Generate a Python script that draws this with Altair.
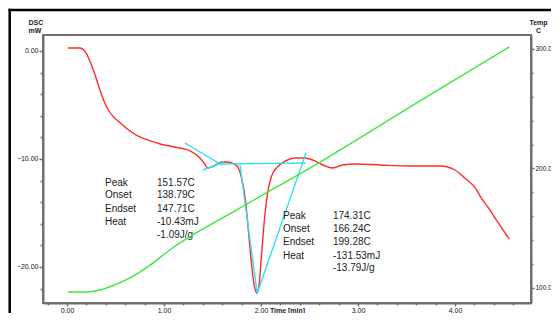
import altair as alt
import pandas as pd

# DSC signal (red), left axis, mW vs time [min]
dsc_time = [0.01, 0.13, 0.19, 0.24, 0.29, 0.34, 0.39, 0.44, 0.55, 0.65,
            0.75, 0.86, 0.96, 1.06, 1.16, 1.27, 1.37, 1.42, 1.45, 1.49,
            1.55, 1.60, 1.66, 1.72, 1.76, 1.80, 1.84, 1.87, 1.90, 1.93,
            1.96, 1.98, 2.01, 2.04, 2.07, 2.11, 2.18, 2.25, 2.35, 2.45,
            2.56, 2.66, 2.74, 2.84, 2.97, 3.23, 3.54, 3.85, 4.00, 4.10,
            4.21, 4.26, 4.36, 4.46, 4.56]
dsc_mw = [0.28, 0.28, -0.09, -1.02, -2.22, -3.61, -4.81, -5.65, -6.67, -7.41,
          -7.96, -8.33, -8.61, -8.80, -8.98, -9.26, -9.91, -10.46, -10.83, -10.74,
          -10.46, -10.28, -10.28, -10.46, -10.74, -11.76, -13.80, -16.57, -19.54, -21.67,
          -22.41, -21.67, -18.43, -15.19, -13.06, -11.57, -10.65, -10.19, -9.91, -9.91,
          -10.19, -10.65, -10.83, -10.56, -10.46, -10.56, -10.65, -10.65, -11.02, -11.76,
          -12.69, -13.43, -14.72, -16.11, -17.41]

# Temperature (green), right axis
temp_time = [0.01, 0.19, 0.34, 0.49, 0.65, 0.86, 1.06, 1.75, 2.61, 3.64, 4.56]
temp_c = [96.7, 96.7, 98.3, 102.5, 108.4, 119.3, 131.8, 165.3, 205.4, 256.5, 301.7]

# Tangent / baseline construction lines (cyan)
seg_t1 = [1.216, 1.402, 1.598, 1.784, 1.959]
seg_m1 = [-8.52, -11.02, -10.46, -10.56, -22.50]
seg_t2 = [1.598, 1.619, 2.464, 1.959, 2.464]
seg_m2 = [-10.56, -10.28, -10.37, -22.31, -9.44]

# Annotation blocks
ann_keys = ["Peak", "Onset", "Endset", "Heat", ""]
ann1_vals = ["151.57C", "138.79C", "147.71C", "-10.43mJ", "-1.09J/g"]
ann2_vals = ["174.31C", "166.24C", "199.28C", "-131.53mJ", "-13.79J/g"]
ann1_y = [-12.22, -13.33, -14.63, -15.83, -17.04]
ann2_y = [-15.28, -16.48, -17.69, -18.98, -20.09]
ann1_xk, ann1_xv = 0.392, 0.928
ann2_xk, ann2_xv = 2.227, 2.742

# Axis ticks
x_ticks = [-0.2, 0.0, 0.2, 0.4, 0.6, 0.8, 1.0, 1.2, 1.4, 1.6, 1.8, 2.0, 2.2, 2.4,
           2.6, 2.8, 3.0, 3.2, 3.4, 3.6, 3.8, 4.0, 4.2, 4.4, 4.6]
y_ticks = [0, -2, -4, -6, -8, -10, -12, -14, -16, -18, -20, -22]
t_ticks = [100, 120, 140, 160, 180, 200, 220, 240, 260, 280, 300]

FONT = "Liberation Sans"
AX = "#707070"
W = 488
H = 268
x_dom = [-0.247, -0.247 + W / 97.0]
y_dom = [1.48 - H / 10.8, 1.48]
t_dom = [311.7 - H / 1.195, 311.7]

dsc = pd.DataFrame({"t": dsc_time, "mw": dsc_mw})
tmp = pd.DataFrame({"t": temp_time, "c": temp_c})
seg = pd.DataFrame({"t1": seg_t1, "m1": seg_m1, "t2": seg_t2, "m2": seg_m2})
ann = pd.DataFrame({
    "x": [ann1_xk] * 5 + [ann1_xv] * 5 + [ann2_xk] * 5 + [ann2_xv] * 5,
    "y": ann1_y + ann1_y + ann2_y + ann2_y,
    "txt": ann_keys + ann1_vals + ann_keys + ann2_vals,
})

xscale = alt.Scale(domain=x_dom, nice=False, zero=False)
yscale = alt.Scale(domain=y_dom, nice=False, zero=False)
tscale = alt.Scale(domain=t_dom, nice=False, zero=False)

xaxis = alt.Axis(
    values=x_ticks, title="Time  [min]", grid=False,
    labelExpr="abs(datum.value - round(datum.value)) < 0.001 ? format(datum.value, '.2f') : ''",
    tickSize={"condition": {"test": "abs(datum.value - round(datum.value)) < 0.001", "value": 3}, "value": 2},
    labelFont=FONT, labelFontSize=7, labelColor="#111", labelPadding=0,
    titleFont=FONT, titleFontSize=7, titleFontWeight="bold", titleColor="#222",
    titleY=9.5, titleBaseline="alphabetic",
    domainColor=AX, domainWidth=2, tickColor=AX, tickWidth=1.5, labelFlush=False,
)
yaxis = alt.Axis(
    values=y_ticks, title=["DSC", "mW"], grid=False,
    labelExpr="datum.value % 10 == 0 ? format(datum.value, '.2f') : ''",
    tickSize={"condition": {"test": "datum.value % 10 == 0", "value": 4}, "value": 3},
    labelFont=FONT, labelFontSize=7, labelColor="#111", labelPadding=1,
    titleFont=FONT, titleFontSize=7, titleFontWeight="bold", titleColor="#222",
    titleAngle=0, titleAlign="left", titleBaseline="top", titleX=-15, titleY=-17,
    titleLineHeight=8,
    domainColor=AX, domainWidth=2, tickColor=AX, tickWidth=1.5,
)
taxis = alt.Axis(
    orient="right", values=t_ticks, title=["Temp", "C"], grid=False,
    labelExpr="datum.value % 100 == 0 ? format(datum.value, '.1f') : ''",
    tickSize={"condition": {"test": "datum.value % 100 == 0", "value": 3}, "value": 2},
    labelFont=FONT, labelFontSize=6.5, labelColor="#111", labelPadding=1,
    titleFont=FONT, titleFontSize=7, titleFontWeight="bold", titleColor="#222",
    titleAngle=0, titleAlign="center", titleBaseline="top", titleX=7, titleY=-17,
    titleLineHeight=8,
    domainColor=AX, domainWidth=2, tickColor=AX, tickWidth=1.5,
)

red = alt.Chart(dsc).mark_line(color="#ff2b2b", strokeWidth=1.4, interpolate="monotone").encode(
    x=alt.X("t:Q", scale=xscale, axis=xaxis),
    y=alt.Y("mw:Q", scale=yscale, axis=yaxis),
)
cyan = alt.Chart(seg).mark_rule(color="#33e0f0", strokeWidth=1.4).encode(
    x=alt.X("t1:Q", scale=xscale, axis=xaxis),
    x2="t2:Q",
    y=alt.Y("m1:Q", scale=yscale, axis=yaxis),
    y2="m2:Q",
)
text = alt.Chart(ann).mark_text(align="left", baseline="middle", font=FONT, fontSize=10, color="#222").encode(
    x=alt.X("x:Q", scale=xscale, axis=xaxis),
    y=alt.Y("y:Q", scale=yscale, axis=yaxis),
    text="txt:N",
)
green = alt.Chart(tmp).mark_line(color="#3ee83e", strokeWidth=1.4, interpolate="monotone").encode(
    x=alt.X("t:Q", scale=xscale, axis=xaxis),
    y=alt.Y("c:Q", scale=tscale, axis=taxis),
)

frame_src = pd.DataFrame({"k": [0]})
frame_v = alt.Chart(frame_src).mark_rule(color="#000", strokeWidth=2.5).encode(
    x=alt.value(-33.3), y=alt.value(-26.2), y2=alt.value(300)
)
frame_h = alt.Chart(frame_src).mark_rule(color="#000", strokeWidth=2.5).encode(
    x=alt.value(-34.5), x2=alt.value(515), y=alt.value(-25)
)

left = alt.layer(red, cyan, text)
chart = alt.layer(left, green, frame_v, frame_h).resolve_scale(y="independent").properties(
    width=W, height=H, autosize="none",
    padding={"left": 35, "top": 27, "right": 20, "bottom": 10},
    background="white",
).configure_view(stroke=AX, strokeWidth=2)

chart.save("out.html", embed_options={"renderer": "svg", "actions": False})
